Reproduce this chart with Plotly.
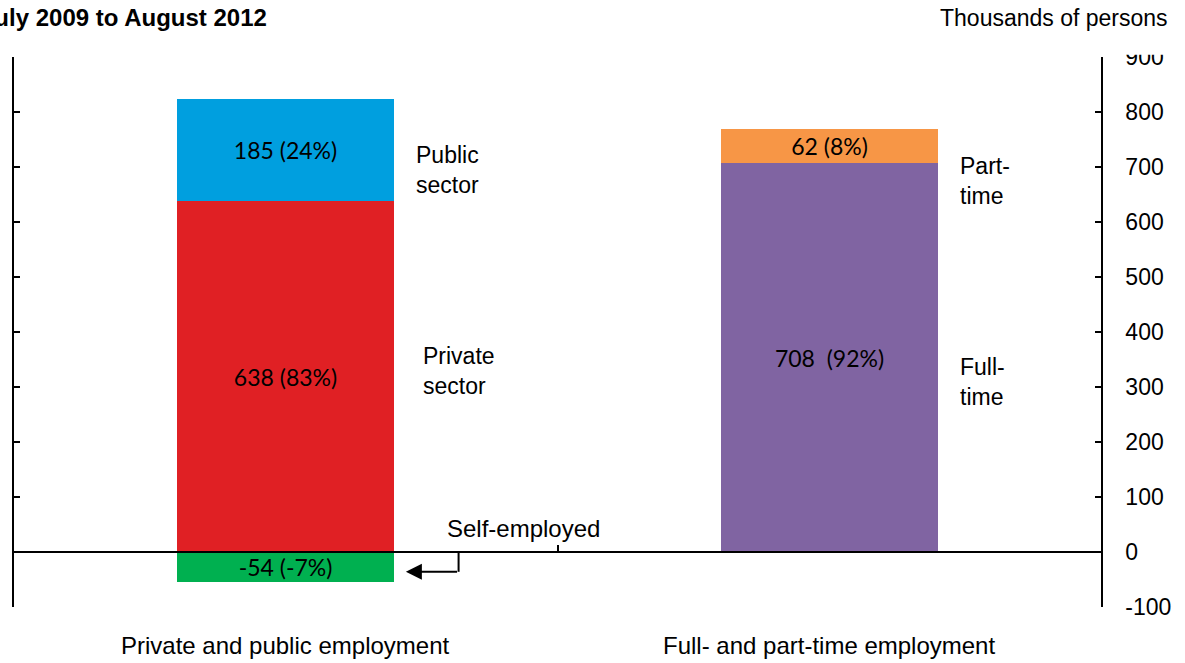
import plotly.graph_objects as go

# Change in employment, July 2009 to August 2012 (thousands of persons)
categories = ["Private and public employment", "Full- and part-time employment"]

private_sector = [638, None]
public_sector = [185, None]
self_employed = [-54, None]
full_time = [None, 708]
part_time = [None, 62]

private_text = ["638 (83%)", ""]
public_text = ["185 (24%)", ""]
self_text = ["-54 (-7%)", ""]
full_text = ["", "708  (92%)"]
part_text = ["", "62 (8%)"]

y_ticks = [-100, 0, 100, 200, 300, 400, 500, 600, 700, 800, 900]
y_tick_text = ["-100", "0", "100", "200", "300", "400", "500", "600", "700", "800", "900"]

ARIAL = "Liberation Sans, Arial, sans-serif"
CALIBRI = "Lato, Carlito, Calibri, sans-serif"
FS = 23
LS = 24

fig = go.Figure()


def add_bar(values, texts, color):
    fig.add_trace(go.Bar(
        x=categories, y=values, text=texts,
        texttemplate="%{text}", textposition="inside",
        insidetextanchor="middle", textangle=0,
        textfont=dict(family=CALIBRI, size=FS, color="black"),
        marker=dict(color=color, line=dict(width=0)),
        width=0.4, showlegend=False, hoverinfo="skip",
        cliponaxis=False,
    ))


add_bar(private_sector, private_text, "#E02024")
add_bar(public_sector, public_text, "#009FDF")
add_bar(self_employed, self_text, "#00B050")
add_bar(full_time, full_text, "#8064A2")
add_bar(part_time, part_text, "#F79646")

y_min, y_max = y_ticks[0], y_ticks[-1]
zero_pos = (0 - y_min) / (y_max - y_min)

fig.update_layout(
    width=1185, height=663,
    margin=dict(l=12, r=84, t=57, b=56),
    paper_bgcolor="white", plot_bgcolor="white",
    barmode="relative", bargap=0,
    uniformtext=dict(minsize=FS, mode="show"),
    font=dict(family=ARIAL, size=FS, color="black"),
    xaxis=dict(
        type="category", categoryorder="array", categoryarray=categories,
        range=[-0.5, 1.5], anchor="free", position=zero_pos,
        showline=True, linecolor="black", linewidth=2,
        ticks="inside", tickson="boundaries", ticklen=6, tickcolor="black",
        tickwidth=1.5, showticklabels=False, showgrid=False, zeroline=False,
    ),
    yaxis=dict(
        side="right", range=[y_min, y_max],
        tickmode="array", tickvals=y_ticks, ticktext=y_tick_text,
        showline=True, linecolor="black", linewidth=1.5, mirror="ticks",
        ticks="inside", ticklen=6, tickcolor="black", tickwidth=1.5,
        ticklabelstandoff=18,
        tickfont=dict(family=ARIAL, size=FS, color="black"),
        showgrid=False, zeroline=False,
    ),
)


def label(text, x, y, xref="x", yref="y", xanchor="left", size=LS, **kw):
    return dict(text=text, x=x, y=y, xref=xref, yref=yref, xanchor=xanchor,
                yanchor="middle", align="left", showarrow=False,
                font=dict(family=ARIAL, size=size, color="black"), **kw)


annotations = [
    # heading and units
    label("<b>July 2009 to August 2012</b>", 0.235, 1.071, "paper", "paper", "right"),
    label("Thousands of persons", 1.0634, 1.071, "paper", "paper", "right", size=23),
    # category names below the plot
    label(categories[0], 0, -0.07, "x", "paper", "center"),
    label(categories[1], 1, -0.07, "x", "paper", "center"),
    # segment names beside the bars
    label("Public<br>sector", 0.236, 694, size=23),
    label("Private<br>sector", 0.249, 329, size=23),
    label("Part-<br>time", 1.236, 675, size=23),
    label("Full-<br>time", 1.236, 309, size=23),
    label("Self-employed", 0.293, 42),
    # arrow pointing at the self-employed segment
    dict(text="", x=0.221, y=-36, ax=0.318, ay=-36, xref="x", yref="y",
         axref="x", ayref="y", showarrow=True, arrowhead=2, arrowsize=1.6,
         arrowwidth=2, arrowcolor="black", standoff=0),
]
fig.update_layout(annotations=annotations)

fig.add_shape(type="line", xref="x", yref="y", x0=0.318, x1=0.318,
              y0=0, y1=-36, line=dict(color="black", width=2))

# white band that trims the top of the uppermost tick label
fig.add_shape(type="rect", xref="paper", yref="paper", x0=1.005, x1=1.08,
              y0=1.004, y1=1.05, fillcolor="white", line=dict(width=0),
              layer="above")

fig.write_html("out.html")
